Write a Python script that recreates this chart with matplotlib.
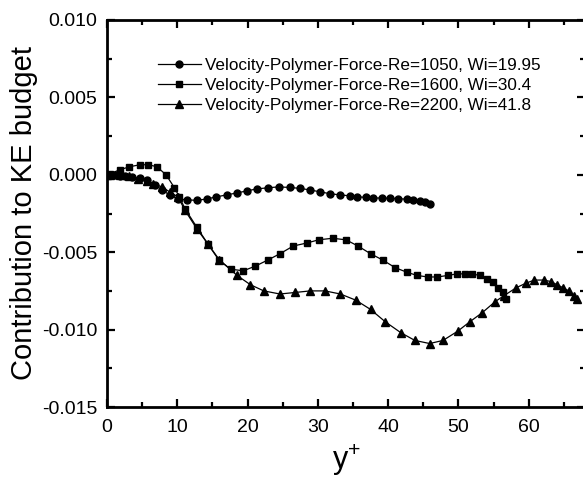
import matplotlib
matplotlib.use('Agg')
import matplotlib.pyplot as plt
from matplotlib.ticker import MultipleLocator, FormatStrFormatter

plt.rcParams['font.family'] = ['Liberation Sans', 'DejaVu Sans']
plt.rcParams['mathtext.fontset'] = 'custom'
plt.rcParams['mathtext.rm'] = 'Liberation Sans'
plt.rcParams['mathtext.it'] = 'Liberation Sans'

# Re=1050, Wi=19.95
y_1050 = [0, 0.5, 1.1, 1.8, 2.6, 3.6, 4.7, 5.7, 6.8, 7.8, 8.9, 10.1, 11.4, 12.8,
          14.2, 15.5, 17.0, 18.5, 19.9, 21.3, 22.9, 24.4, 26.1, 27.5, 28.9, 30.3,
          31.7, 33.2, 34.6, 35.6, 36.8, 37.8, 39.1, 40.3, 41.4, 42.7, 43.5, 44.5,
          45.2, 45.9]
ke_1050 = [0, -0.00001, -0.00002, -0.00005, -0.0001, -0.00016, -0.00022, -0.00032,
           -0.00065, -0.00097, -0.0013, -0.00156, -0.00162, -0.00165, -0.00156,
           -0.00143, -0.0013, -0.00117, -0.00104, -0.00091, -0.00084, -0.00078,
           -0.00082, -0.00088, -0.00098, -0.0011, -0.00122, -0.0013, -0.00136,
           -0.00142, -0.00146, -0.0015, -0.0015, -0.00152, -0.00154, -0.00158,
           -0.00162, -0.00168, -0.00178, -0.0019]

# Re=1600, Wi=30.4
y_1600 = [0, 0.4, 1.8, 3.2, 4.7, 5.9, 7.1, 8.4, 9.6, 10.3, 11.1, 12.8, 14.4, 15.9,
          17.6, 19.4, 21.1, 22.9, 24.6, 26.5, 28.5, 30.1, 32.1, 34.0, 35.7, 37.5,
          39.2, 41.0, 42.7, 44.1, 45.6, 47.0, 48.5, 49.8, 50.9, 51.9, 53.0, 54.0,
          54.9, 55.6, 56.3, 56.8]
ke_1600 = [0, 0.00006, 0.00032, 0.00052, 0.00065, 0.00065, 0.00052, 0.0, -0.00084,
           -0.00143, -0.0022, -0.0034, -0.0045, -0.0055, -0.0061, -0.0062, -0.0059,
           -0.0055, -0.0051, -0.0046, -0.0044, -0.0042, -0.0041, -0.0042, -0.0046,
           -0.0051, -0.0055, -0.0060, -0.0063, -0.0065, -0.0066, -0.0066, -0.0065,
           -0.0064, -0.0064, -0.0064, -0.0065, -0.0067, -0.0069, -0.0073, -0.0076,
           -0.0080]

# Re=2200, Wi=41.8
y_2200 = [0, 0.4, 1.8, 3.2, 4.4, 5.7, 6.6, 7.8, 8.9, 10.1, 11.1, 12.8, 14.4, 16.0,
          18.5, 20.4, 22.3, 24.6, 26.8, 28.9, 31.0, 33.2, 35.4, 37.5, 39.6, 41.8,
          43.8, 45.9, 47.8, 49.9, 51.6, 53.4, 55.2, 56.5, 58.2, 59.6, 60.8, 62.1,
          63.2, 64.0, 64.9, 65.7, 66.4, 66.8]
ke_2200 = [0, 0, 0, -0.00006, -0.00026, -0.00039, -0.00058, -0.00078, -0.0011,
           -0.00143, -0.0023, -0.0035, -0.0045, -0.0055, -0.0065, -0.0071, -0.0075,
           -0.0077, -0.0076, -0.0075, -0.0075, -0.0077, -0.0081, -0.0087, -0.0095,
           -0.0102, -0.0107, -0.0109, -0.0107, -0.0101, -0.0095, -0.0089, -0.0082,
           -0.0078, -0.0073, -0.0070, -0.0068, -0.0068, -0.0069, -0.0071, -0.0073,
           -0.0075, -0.0078, -0.0080]

labels = ['Velocity-Polymer-Force-Re=1050, Wi=19.95',
          'Velocity-Polymer-Force-Re=1600, Wi=30.4',
          'Velocity-Polymer-Force-Re=2200, Wi=41.8']

fig = plt.figure(figsize=(5.83, 4.8), dpi=100)
ax = fig.add_axes([107 / 583, 73 / 480, 478 / 583, 387 / 480])

ax.plot(y_1050, ke_1050, 'k-', marker='o', ms=5, lw=0.9, label=labels[0])
ax.plot(y_1600, ke_1600, 'k-', marker='s', ms=4.5, lw=0.9, label=labels[1])
ax.plot(y_2200, ke_2200, 'k-', marker='^', ms=5.5, lw=0.9, label=labels[2])

ax.set_xlim(0, 68)
ax.set_ylim(-0.015, 0.010)
ax.xaxis.set_major_locator(MultipleLocator(10))
ax.xaxis.set_minor_locator(MultipleLocator(5))
ax.yaxis.set_major_locator(MultipleLocator(0.005))
ax.yaxis.set_minor_locator(MultipleLocator(0.0025))
ax.yaxis.set_major_formatter(FormatStrFormatter('%.3f'))

ax.tick_params(which='both', direction='in', top=True, right=True, width=1.6)
ax.tick_params(which='major', length=6, labelsize=14, pad=7)
ax.tick_params(which='minor', length=3.5)
ax.tick_params(axis='x', which='major', pad=9)
for sp in ax.spines.values():
    sp.set_linewidth(2)

ax.set_xlabel(r'y$^{+}$', fontsize=22, labelpad=4)
ax.set_ylabel('Contribution to KE budget', fontsize=21, labelpad=3)

ax.legend(loc='upper left', bbox_to_anchor=(158 / 583, 1 - 58 / 480),
          bbox_transform=fig.transFigure, frameon=False, fontsize=12.3,
          handlelength=2.5, handletextpad=0.25, labelspacing=0.3,
          borderpad=0, borderaxespad=0)

fig.savefig('out.png', dpi=100)
